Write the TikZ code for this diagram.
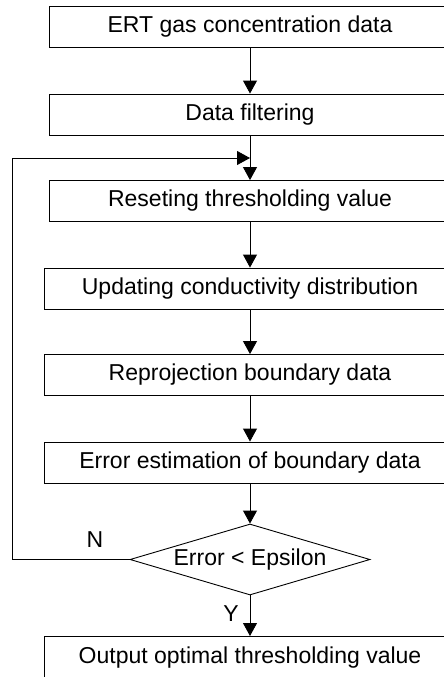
\documentclass[tikz,border=0pt]{standalone}
\usepackage{fontspec}
\setmainfont{Liberation Sans}
\usetikzlibrary{arrows.meta,shapes.geometric}
\begin{document}
\begin{tikzpicture}[x=1pt,y=-1pt,
  stepbox/.style={draw,line width=0.9pt,minimum height=41pt,inner sep=0pt,font=\fontsize{23}{26}\selectfont,anchor=center},
  flow/.style={line width=0.9pt,-{Triangle[length=13pt,width=14pt]}},
  lbl/.style={font=\fontsize{23}{26}\selectfont}]
\useasboundingbox (0,0) rectangle (444,677);
\node[stepbox,minimum width=402pt] (b1) at (250,27) {ERT gas concentration data};
\node[stepbox,minimum width=402pt] (b2) at (250,114.5) {Data filtering};
\node[stepbox,minimum width=402pt] (b3) at (250,201) {Reseting thresholding value};
\node[stepbox,minimum width=412pt] (b4) at (250,288.5) {Updating conductivity distribution};
\node[stepbox,minimum width=412pt] (b5) at (250,375) {Reprojection boundary data};
\node[stepbox,minimum width=412pt] (b6) at (250,462.5) {Error estimation of boundary data};
\node[draw,line width=0.9pt,diamond,aspect=3.38,minimum width=240pt,minimum height=71pt,inner sep=0pt,font=\fontsize{23}{26}\selectfont] (d) at (250,559.5) {Error < Epsilon};
\node[stepbox,minimum width=412pt,minimum height=44pt,anchor=north] (b7) at (250,636) {};
\node[lbl] (t7) at (250,658) {Output optimal thresholding value};
\coordinate (m) at (250,158);
\coordinate (c1) at (12,559.5);
\coordinate (c2) at (12,158);
\draw[flow] (b1.south) -- (b2.north);
\draw[flow] (b2.south) -- (b3.north);
\draw[flow] (b3.south) -- (b4.north);
\draw[flow] (b4.south) -- (b5.north);
\draw[flow] (b5.south) -- (b6.north);
\draw[flow] (b6.south) -- (d.north);
\draw[flow] (d.south) -- (b7.north);
\draw[flow] (d.west) -- (c1) -- (c2) -- (m);
\node[lbl] (n) at (95,540) {N};
\node[lbl] (y) at (231,614) {Y};
\end{tikzpicture}
\end{document}
